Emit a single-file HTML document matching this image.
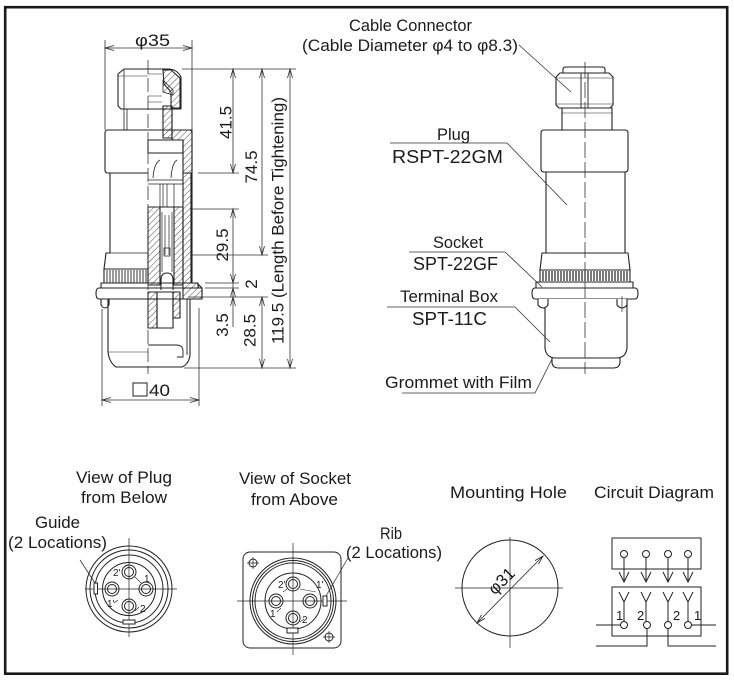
<!DOCTYPE html>
<html><head><meta charset="utf-8"><style>
html,body{margin:0;padding:0;background:#fff;width:734px;height:680px;overflow:hidden}
svg{display:block}
.t{font-family:"Liberation Sans",sans-serif;fill:#1b1b1b}
</style></head><body>
<svg width="734" height="680" viewBox="0 0 734 680" xmlns="http://www.w3.org/2000/svg">
<defs>
<pattern id="h" width="4.4" height="4.4" patternUnits="userSpaceOnUse" patternTransform="rotate(45)"><line x1="0" y1="0" x2="0" y2="4.4" stroke="#222" stroke-width="0.8"/></pattern>
</defs>
<rect width="734" height="680" fill="#fff"/>
<rect x="5.2" y="7.2" width="722" height="666.5" fill="none" stroke="#1a1a1a" stroke-width="2.6"/>

<!-- ================= LEFT SECTION VIEW ================= -->
<g fill="none" stroke="#222" stroke-width="1.1" stroke-linejoin="round">
<path d="M148,69 H124 L118,74 V106 L121,109 H148"/>
<path d="M124,70 V109" stroke-width="0.8"/>
<path d="M118,76 H148" stroke-width="0.5"/>
<path d="M124,109 V130 M127,109 V130" stroke-width="0.8"/>
<path d="M148,130 H108 Q105,130 105,133 V170 Q105,173 108,173 H148"/>
<path d="M110,173 V253 H106 L104,269"/>
<path d="M110,253 H148" stroke-width="0.8"/>
<rect x="104" y="269" width="44" height="14"/>
<path d="M107,270v13M110,270v13M113,270v13M116,270v13M119,270v13M122,270v13M125,270v13M128,270v13M131,270v13M134,270v13M137,270v13M140,270v13M143,270v13M146,270v13" stroke-width="0.9"/>
<rect x="101" y="283" width="97" height="5"/>
<path d="M202,288 H99 Q96,288 96,293.5 Q96,299 99,299 H202 Z"/>
<path d="M108,299 V352 Q109,362 116,367 H182 Q189,364 190,355 V299"/>
<path d="M108,352 H148" stroke-width="0.6"/>
<path d="M101,299 V305 Q105,311 109,305 V299"/>

<path d="M148,69 H168 Q177,69 181,77 V109 H148"/>
<polygon points="163,70 171,70 180,78 180,108 171,108 171,92 164,84" fill="url(#h)"/>
<polygon points="163,80 173,90 173,95 163,92" fill="url(#h)" stroke-width="0.8"/>
<polygon points="163,106 172,106 172,138 163,138" fill="url(#h)"/>
<path d="M148,74 H162 M148,96 H162 M148,102 H162" stroke-width="0.6"/>
<path d="M172,109 V130"/>
<path d="M148,130 H189 Q192,130 192,133 V283"/>
<polygon points="172,130 192,130 192,173 183,173 183,140 172,140" fill="url(#h)"/>
<polygon points="183,173 191,173 191,283 183,283" fill="url(#h)"/>
<rect x="148" y="140" width="35" height="13"/>
<path d="M153,178 Q154,163 160,160 M171,178 Q172,163 177,160" stroke-width="0.8"/>
<path d="M148,180 H183 M148,184 H183" stroke-width="0.8"/>
<path d="M160,184 V207 M163,184 V207 M167,184 V207 M174,184 V207" stroke-width="0.7"/>
<path d="M148,207 H183"/>
<rect x="148" y="207" width="12" height="78" fill="url(#h)"/>
<rect x="174" y="207" width="9" height="78" fill="url(#h)"/>
<path d="M162,212 V272 M172,212 V272 M165,215 V255 M169,215 V255" stroke-width="0.7"/>
<rect x="164" y="248" width="6" height="8" stroke-width="0.7"/>
<path d="M161,290 V280 Q161,273 167,273 Q173,273 173,280 V290"/>
<polygon points="183,283 197,283 202,288 202,299 183,299" fill="url(#h)"/>
<rect x="148" y="292" width="9" height="36" fill="url(#h)"/>
<rect x="157" y="292" width="16" height="36"/>
<rect x="173" y="292" width="7" height="26" fill="url(#h)"/>
<path d="M187,299 V355" stroke-width="0.9"/>
<path d="M148,345 H176 Q183,345 183,351 V357 H177" stroke-width="0.9"/>
</g>
<path d="M148,60 V374" stroke="#333" stroke-width="0.8" stroke-dasharray="14,4" fill="none"/>

<g fill="none" stroke="#333" stroke-width="0.8">
<path d="M105,40 V130 M192,40 V130 M105,48 H192"/>
<path d="M114,45.5 L105,48 L114,50.5 M183,45.5 L192,48 L183,50.5"/>
<path d="M182,69 H296 M198,173 H239 M190,209 H239 M190,255 H268 M205,283 H239 M205,288 H239 M188,297 H268 M184,368 H296"/>
<path d="M233,69 V173 M230.5,78 L233,69 L235.5,78 M230.5,164 L233,173 L235.5,164"/>
<path d="M262,69 V255 M259.5,78 L262,69 L264.5,78 M259.5,246 L262,255 L264.5,246"/>
<path d="M290,69 V368 M287.5,78 L290,69 L292.5,78 M287.5,359 L290,368 L292.5,359"/>
<path d="M233,209 V327 M230.5,218 L233,209 L235.5,218 M230.5,274 L233,283 L235.5,274 M230.5,297 L233,288 L235.5,297 M230.5,306 L233,297 L235.5,306"/>
<path d="M262,297 V368 M259.5,306 L262,297 L264.5,306 M259.5,359 L262,368 L264.5,359"/>
<path d="M102,309 V406 M199,308 V406 M102,400 H199 M111,397.5 L102,400 L111,402.5 M190,397.5 L199,400 L190,402.5"/>
<rect x="133" y="383" width="14" height="13" stroke="#222" stroke-width="1"/>
</g>
<text class="t" x="135" y="46" font-size="17" textLength="35" lengthAdjust="spacingAndGlyphs">φ35</text>
<text class="t" x="149" y="396" font-size="17" textLength="21" lengthAdjust="spacingAndGlyphs">40</text>
<text class="t" font-size="17" text-anchor="middle" transform="translate(231.5,122.5) rotate(-90)">41.5</text>
<text class="t" font-size="17" text-anchor="middle" transform="translate(257,167) rotate(-90)">74.5</text>
<text class="t" font-size="17" text-anchor="middle" transform="translate(283.5,220.5) rotate(-90)" textLength="247" lengthAdjust="spacingAndGlyphs">119.5 (Length Before Tightening)</text>
<text class="t" font-size="17" text-anchor="middle" transform="translate(228,245) rotate(-90)">29.5</text>
<text class="t" font-size="17" text-anchor="middle" transform="translate(257,284) rotate(-90)">2</text>
<text class="t" font-size="17" text-anchor="middle" transform="translate(228,325) rotate(-90)">3.5</text>
<text class="t" font-size="17" text-anchor="middle" transform="translate(255.5,330.5) rotate(-90)">28.5</text>

<!-- ================= RIGHT EXTERIOR VIEW ================= -->
<g fill="#fff" stroke="#222" stroke-width="1.1" stroke-linejoin="round">
<path d="M563,73 V69 Q563,67 566,67 H602 Q605,67 605,69 V73" fill="none"/>
<path d="M560,73 H609 L613,77 V105 L610,108 H559 L556,105 V77 Z"/>
<path d="M581,73 V108 M588,73 V108" stroke-width="0.9" fill="none"/>
<path d="M556,78 H613 M556,104 H613" stroke-width="0.5" fill="none"/>
<rect x="562" y="108" width="50" height="22"/>
<path d="M562,113 H612" stroke-width="0.5" fill="none"/>
<path d="M544,130 H625 Q628,130 628,133 V169 Q628,172 625,172 H544 Q541,172 541,169 V133 Q541,130 544,130 Z"/>
<rect x="546" y="172" width="79" height="81"/>
<path d="M542,253 H628 L630,270 H540 Z"/>
<rect x="540" y="270" width="90" height="12"/>
<path d="M543,271v10M546,271v10M549,271v10M552,271v10M555,271v10M558,271v10M561,271v10M564,271v10M567,271v10M570,271v10M573,271v10M576,271v10M579,271v10M582,271v10M585,271v10M588,271v10M591,271v10M594,271v10M597,271v10M600,271v10M603,271v10M606,271v10M609,271v10M612,271v10M615,271v10M618,271v10M621,271v10M624,271v10M627,271v10" stroke-width="1.2" fill="none"/>
<rect x="536" y="282" width="97" height="6"/>
<path d="M535,288 H635 Q638,288 638,293.5 Q638,299 635,299 H535 Q532,299 532,293.5 Q532,288 535,288 Z"/>
<path d="M552,356 V363 Q553,368 558,368 H614 Q619,368 620,363 V356"/>
<path d="M545,299 V348 Q546,358 556,358 H616 Q626,358 627,348 V299"/>
<path d="M538,299 V305 Q543,311 548,305 V299"/>
<path d="M617,299 V305 Q622,311 627,305 V299"/>
</g>
<path d="M585,62 V374" stroke="#333" stroke-width="0.8" stroke-dasharray="16,4" fill="none"/>
<path d="M622,296 V312" stroke="#333" stroke-width="0.7" fill="none"/>

<g fill="none" stroke="#333" stroke-width="0.8">
<path d="M519,45 L571,92"/>
<path d="M390,143 H507 L567,205"/>
<path d="M409,252 H505 L542,287"/>
<path d="M387,307 H515 L550,342"/>
<path d="M402,393 H535 L552,359"/>
</g>
<text class="t" x="349" y="31" font-size="17" textLength="123" lengthAdjust="spacingAndGlyphs">Cable Connector</text>
<text class="t" x="302" y="51" font-size="17" textLength="216" lengthAdjust="spacingAndGlyphs">(Cable Diameter φ4 to φ8.3)</text>
<text class="t" x="437" y="140" font-size="17" textLength="33" lengthAdjust="spacingAndGlyphs">Plug</text>
<text class="t" x="392" y="163" font-size="18" textLength="111" lengthAdjust="spacingAndGlyphs">RSPT-22GM</text>
<text class="t" x="433" y="248" font-size="17" textLength="50" lengthAdjust="spacingAndGlyphs">Socket</text>
<text class="t" x="413" y="270" font-size="18" textLength="85" lengthAdjust="spacingAndGlyphs">SPT-22GF</text>
<text class="t" x="400" y="302" font-size="17" textLength="98" lengthAdjust="spacingAndGlyphs">Terminal Box</text>
<text class="t" x="412" y="325" font-size="18" textLength="75" lengthAdjust="spacingAndGlyphs">SPT-11C</text>
<text class="t" x="385" y="388" font-size="17" textLength="147" lengthAdjust="spacingAndGlyphs">Grommet with Film</text>

<!-- ================= BOTTOM: PLUG VIEW ================= -->
<text class="t" x="76" y="483" font-size="17" textLength="96" lengthAdjust="spacingAndGlyphs">View of Plug</text>
<text class="t" x="81" y="503" font-size="17" textLength="86" lengthAdjust="spacingAndGlyphs">from Below</text>
<text class="t" x="35" y="528" font-size="17" textLength="45" lengthAdjust="spacingAndGlyphs">Guide</text>
<text class="t" x="8" y="548" font-size="17" textLength="99" lengthAdjust="spacingAndGlyphs">(2 Locations)</text>
<g fill="none" stroke="#222" stroke-width="1">
<circle cx="129" cy="589" r="43"/>
<circle cx="129" cy="589" r="39"/>
<circle cx="129" cy="589" r="34"/>
<circle cx="129" cy="589" r="26.5"/>
<circle cx="129" cy="572" r="7"/><circle cx="129" cy="572" r="4.5"/>
<circle cx="112" cy="589" r="7"/><circle cx="112" cy="589" r="4.5"/>
<circle cx="146" cy="589" r="7"/><circle cx="146" cy="589" r="4.5"/>
<circle cx="129" cy="606" r="7"/><circle cx="129" cy="606" r="4.5"/>
<path d="M85,589 H177 M129,538 V637" stroke-width="0.7"/>
<rect x="94" y="583" width="3.5" height="11" fill="#fff"/>
<rect x="123" y="620" width="12" height="4" fill="#fff"/>
<path d="M80,560 L95,583" stroke-width="0.7"/>
<path d="M135,577 L141,583 M118,600 L114,603 M135,611 L139,607" stroke-width="0.6"/>
</g>
<text class="t" x="113" y="576" font-size="10">2'</text>
<text class="t" x="144" y="582" font-size="10">1</text>
<text class="t" x="107" y="607" font-size="10">1'</text>
<text class="t" x="140" y="612" font-size="10">2</text>

<!-- ================= BOTTOM: SOCKET VIEW ================= -->
<text class="t" x="239" y="484" font-size="17" textLength="112" lengthAdjust="spacingAndGlyphs">View of Socket</text>
<text class="t" x="251" y="505" font-size="17" textLength="87" lengthAdjust="spacingAndGlyphs">from Above</text>
<text class="t" x="380" y="539" font-size="17" textLength="22" lengthAdjust="spacingAndGlyphs">Rib</text>
<text class="t" x="346" y="558" font-size="17" textLength="96" lengthAdjust="spacingAndGlyphs">(2 Locations)</text>
<g fill="none" stroke="#222" stroke-width="1">
<rect x="243" y="552" width="98" height="96" rx="7"/>
<circle cx="293" cy="601" r="43"/>
<circle cx="293" cy="601" r="40.5"/>
<circle cx="293" cy="601" r="38"/>
<circle cx="293" cy="601" r="28"/>
<circle cx="293" cy="584" r="7"/><circle cx="293" cy="584" r="4.5"/>
<circle cx="276" cy="601" r="7"/><circle cx="276" cy="601" r="4.5"/>
<circle cx="310" cy="601" r="7"/><circle cx="310" cy="601" r="4.5"/>
<circle cx="293" cy="618" r="7"/><circle cx="293" cy="618" r="4.5"/>
<circle cx="253" cy="563" r="4"/><circle cx="329" cy="637" r="4"/>
<path d="M247,563 H259 M253,557 V569 M323,637 H335 M329,631 V643" stroke-width="0.7"/>
<path d="M237,601 H347 M293,543 V655" stroke-width="0.7"/>
<rect x="323" y="596" width="4" height="10" fill="#fff"/>
<rect x="287" y="628" width="11" height="5" fill="#fff"/>
<path d="M348,558 L326,596" stroke-width="0.7"/>
<path d="M287,589 L283,592 M300,589 L316,592 M281,608 L277,612 M300,622 L304,619" stroke-width="0.6"/>
</g>
<text class="t" x="278" y="588" font-size="10">2'</text>
<text class="t" x="316" y="588" font-size="10">1'</text>
<text class="t" x="270" y="617" font-size="10">1</text>
<text class="t" x="302" y="623" font-size="10">2</text>

<!-- ================= MOUNTING HOLE ================= -->
<text class="t" x="450" y="498" font-size="17" textLength="117" lengthAdjust="spacingAndGlyphs">Mounting Hole</text>
<g fill="none" stroke="#222" stroke-width="1">
<circle cx="510" cy="588" r="48"/>
<path d="M455,588 H563 M510,537 V648" stroke-width="0.7"/>
<path d="M477,623 L543,556" stroke-width="0.8"/>
<path d="M485.1,618.4 L477,623 L481.5,614.8 M538.5,564.2 L543,556 L534.9,560.6" stroke-width="0.8"/>
</g>
<text class="t" font-size="17" text-anchor="middle" transform="translate(505.5,585) rotate(-45)">φ31</text>

<!-- ================= CIRCUIT DIAGRAM ================= -->
<text class="t" x="594" y="498" font-size="17" textLength="120" lengthAdjust="spacingAndGlyphs">Circuit Diagram</text>
<g fill="none" stroke="#222" stroke-width="1">
<rect x="612" y="538" width="89" height="31"/>
<rect x="612" y="587" width="89" height="49"/>
<circle cx="624" cy="554" r="3.5"/><circle cx="646" cy="554" r="3.5"/><circle cx="668" cy="554" r="3.5"/><circle cx="688" cy="554" r="3.5"/>
<path d="M624,557.5 V582 M646,557.5 V582 M668,557.5 V582 M688,557.5 V582"/>
<path d="M619,572 L624,582 L629,572 M641,572 L646,582 L651,572 M663,572 L668,582 L673,572 M683,572 L688,582 L693,572"/>
<path d="M619,592 L624,602 L629,592 M624,602 V621.5 M641,592 L646,602 L651,592 M646,602 V621.5 M663,592 L668,602 L673,592 M668,602 V621.5 M683,592 L688,602 L693,592 M688,602 V621.5"/>
<circle cx="624" cy="625" r="3.5"/><circle cx="647" cy="625" r="3.5"/><circle cx="668" cy="625" r="3.5"/><circle cx="688" cy="625" r="3.5"/>
<path d="M596,625 H620.5 M691.5,625 H716 M647,628.5 V646 H596 M668,628.5 V646 H716"/>
</g>
<text class="t" x="616" y="620" font-size="13">1</text>
<text class="t" x="637" y="620" font-size="13">2</text>
<text class="t" x="673" y="620" font-size="13">2</text>
<text class="t" x="694" y="620" font-size="13">1</text>
</svg>
</body></html>
